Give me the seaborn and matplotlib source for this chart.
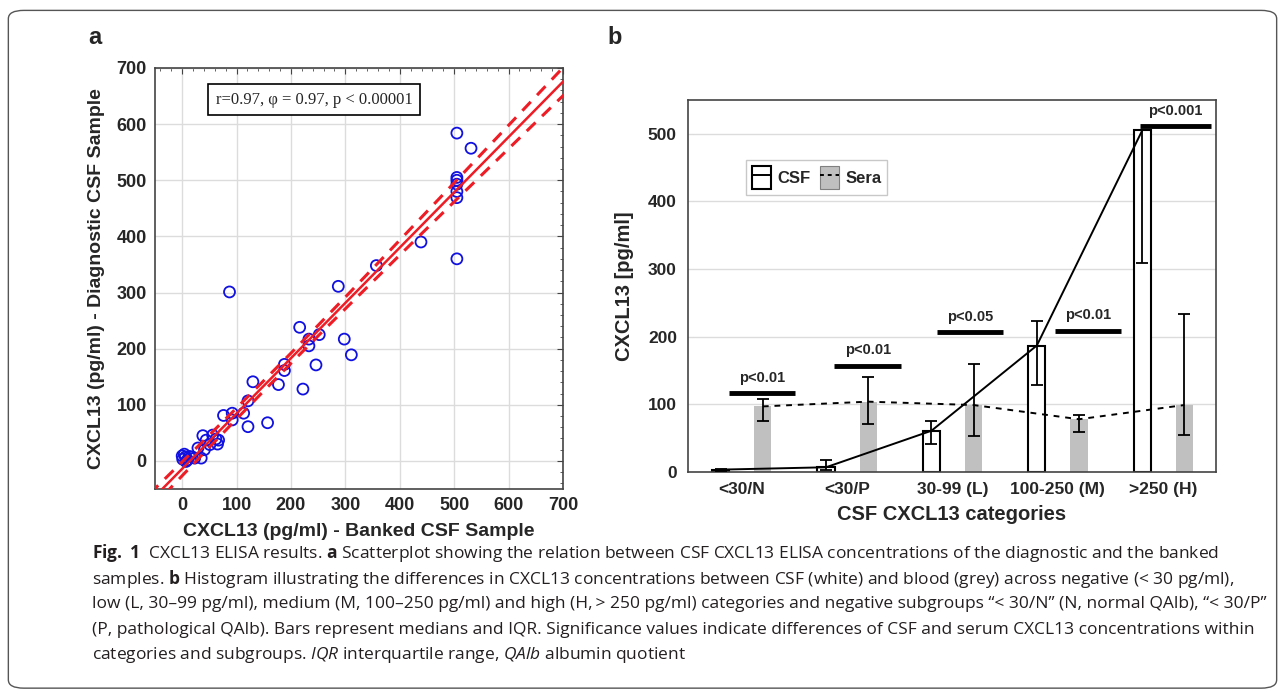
import numpy as np
import pandas as pd
import seaborn as sns
import matplotlib.pyplot as plt
from matplotlib.patches import Patch, FancyBboxPatch
from matplotlib.lines import Line2D

# panel a: banked vs diagnostic CSF CXCL13 (pg/ml)
banked_csf = [505, 531, 505, 505, 505, 505, 505, 505, 439, 357, 287, 87, 216, 298, 311,
              233, 233, 252, 246, 188, 188, 177, 222, 130, 121, 113, 121, 157, 76, 92, 92,
              38, 56, 62, 67, 44, 51, 65, 29, 41, 35, 23, 4, 6, 1, 10, 13, 18, 0, 7]
diagnostic_csf = [584, 557, 505, 500, 493, 480, 469, 360, 390, 348, 311, 301, 238, 217, 189,
                  217, 205, 225, 171, 172, 161, 136, 128, 141, 107, 85, 61, 68, 81, 85, 73,
                  45, 46, 39, 37, 37, 29, 30, 23, 20, 5, 5, 12, 7, 3, 2, 8, 7, 9, -1]
stats_text = "r=0.97, \u03c6 = 0.97, p < 0.00001"
# regression line and 95% band
fit_slope = 0.985
fit_intercept = -14.0
ci_half_narrowest = 9.0
ci_half_at_700 = 25.0

# panel b: medians and IQR per category
categories = ["<30/N", "<30/P", "30-99 (L)", "100-250 (M)", ">250 (H)"]
csf_median = [3.5, 7, 61, 187, 505]
csf_q1 = [2, 3.5, 42, 129, 309]
csf_q3 = [5, 18, 75, 223, 505]
sera_median = [97, 104, 99, 78, 99]
sera_q1 = [75, 71, 53, 59, 54]
sera_q3 = [108, 141, 160, 85, 234]
sig_labels = ["p<0.01", "p<0.01", "p<0.05", "p<0.01", "p<0.001"]
sig_level = [117, 157, 207, 209, 511]

caption = [
    r"$\mathbf{Fig.\ 1}$  CXCL13 ELISA results. $\mathbf{a}$ Scatterplot showing the relation between CSF CXCL13 ELISA concentrations of the diagnostic and the banked",
    r"samples. $\mathbf{b}$ Histogram illustrating the differences in CXCL13 concentrations between CSF (white) and blood (grey) across negative (< 30 pg/ml),",
    "low (L, 30\u201399 pg/ml), medium (M, 100\u2013250 pg/ml) and high (H,\u2009> 250 pg/ml) categories and negative subgroups \u201c< 30/N\u201d (N, normal QAlb), \u201c< 30/P\u201d",
    "(P, pathological QAlb). Bars represent medians and IQR. Significance values indicate differences of CSF and serum CXCL13 concentrations within",
    r"categories and subgroups. $\mathit{IQR}$ interquartile range, $\mathit{QAlb}$ albumin quotient",
]

sns.set_style("white")
plt.rcParams["font.family"] = ["Liberation Sans", "DejaVu Sans"]
plt.rcParams["mathtext.fontset"] = "custom"
plt.rcParams["mathtext.rm"] = "Open Sans"
plt.rcParams["mathtext.bf"] = "Open Sans:bold"
plt.rcParams["mathtext.it"] = "Open Sans:italic"

fig = plt.figure(figsize=(12.85, 6.93), dpi=100)

# rounded frame round the whole figure
fig.patches.append(FancyBboxPatch((0.0065, 0.007), 0.987, 0.978, boxstyle="round,pad=0,rounding_size=0.012",
                                  transform=fig.transFigure, fc="none", ec="#555555", lw=1.0))

# ---------------- panel a ----------------
ax1 = fig.add_axes([0.1206, 0.2944, 0.3175, 0.6075])
x = np.array(banked_csf, dtype=float)
y = np.array(diagnostic_csf, dtype=float)
sns.scatterplot(x=x, y=y, ax=ax1, marker="o", s=62, facecolor="none", edgecolor="#1010e0",
                linewidth=1.3, zorder=3)

xx = np.linspace(-60, 710, 200)
yy = fit_intercept + fit_slope * xx
xc = x.mean()
grow = (ci_half_at_700 ** 2 - ci_half_narrowest ** 2) / (700 - xc) ** 2
band = np.sqrt(ci_half_narrowest ** 2 + grow * (xx - xc) ** 2)
ax1.plot(xx, yy, color="#ee1c25", lw=1.8, zorder=4)
ax1.plot(xx, yy + band, color="#ee1c25", lw=2.2, ls=(0, (4, 3)), zorder=4)
ax1.plot(xx, yy - band, color="#ee1c25", lw=2.2, ls=(0, (4, 3)), zorder=4)

ax1.set_xlim(-50, 700)
ax1.set_ylim(-50, 700)
ax1.set_xticks(range(0, 701, 100))
ax1.set_yticks(range(0, 701, 100))
ax1.set_xticks(range(-40, 701, 20), minor=True)
ax1.set_yticks(range(-40, 701, 20), minor=True)
ax1.grid(True, color="#dcdcdc", lw=1.0)
ax1.set_axisbelow(True)
ax1.tick_params(which="both", direction="in", top=True, right=True, labelsize=13, pad=6, color="#444444")
ax1.tick_params(which="major", length=4)
ax1.tick_params(which="minor", length=2)
for lab in ax1.get_xticklabels() + ax1.get_yticklabels():
    lab.set_fontweight("bold")
for sp in ax1.spines.values():
    sp.set_color("#444444")
    sp.set_linewidth(1.2)
ax1.set_xlabel("CXCL13 (pg/ml) - Banked CSF Sample", fontsize=14, fontweight="bold", labelpad=6)
ax1.set_ylabel("CXCL13 (pg/ml) - Diagnostic CSF Sample", fontsize=14, fontweight="bold", labelpad=8)
ax1.text(0.39, 0.925, stats_text, transform=ax1.transAxes, ha="center", va="center",
         family=["Liberation Serif", "DejaVu Serif"], fontsize=12,
         bbox=dict(boxstyle="square,pad=0.45", fc="white", ec="black", lw=1.2), zorder=5)

# ---------------- panel b ----------------
ax2 = fig.add_axes([0.5354, 0.3189, 0.4109, 0.5368])
df = pd.DataFrame({
    "category": categories * 2,
    "value": csf_median + sera_median,
    "fluid": ["CSF"] * len(categories) + ["Sera"] * len(categories),
})
sns.barplot(data=df, x="category", y="value", hue="fluid", order=categories,
            palette={"CSF": "white", "Sera": "#c0c0c0"}, width=0.8, gap=0.59,
            errorbar=None, legend=False, ax=ax2, zorder=2)
for bar in ax2.patches[:len(categories)]:
    bar.set_edgecolor("black")
    bar.set_linewidth(1.5)
for bar in ax2.patches[len(categories):]:
    bar.set_edgecolor("none")

pos = np.arange(len(categories))
csf_x = pos - 0.2
sera_x = pos + 0.2
cm, sm = np.array(csf_median), np.array(sera_median)
ax2.errorbar(csf_x, cm, yerr=[cm - np.array(csf_q1), np.array(csf_q3) - cm], fmt="none",
             ecolor="black", elinewidth=1.3, capsize=4.5, capthick=1.3, zorder=5)
ax2.errorbar(sera_x, sm, yerr=[sm - np.array(sera_q1), np.array(sera_q3) - sm], fmt="none",
             ecolor="black", elinewidth=1.3, capsize=4.5, capthick=1.3, zorder=5)
ax2.plot(csf_x, cm, color="black", lw=1.4, zorder=4)
ax2.plot(sera_x, sm, color="black", lw=1.4, ls=(0, (3, 3)), zorder=4)

# significance bars
sig_left = [-0.12, -0.12, -0.15, -0.03, -0.22]
sig_right = [0.51, 0.51, 0.48, 0.60, 0.45]
for i, (lab, lev) in enumerate(zip(sig_labels, sig_level)):
    ax2.plot([i + sig_left[i], i + sig_right[i]], [lev, lev], color="black", lw=3.5,
             solid_capstyle="butt", zorder=5)
    ax2.annotate(lab, xy=(i + (sig_left[i] + sig_right[i]) / 2, lev), xytext=(0, 6),
                 textcoords="offset points", ha="center", va="bottom", fontsize=10.5,
                 fontweight="bold")

ax2.set_xlim(-0.51, 4.5)
ax2.set_ylim(0, 550)
ax2.set_yticks(range(0, 501, 100))
ax2.yaxis.grid(True, color="#dcdcdc", lw=1.0)
ax2.set_axisbelow(True)
ax2.tick_params(axis="both", direction="in", length=3, labelsize=12.5, color="#444444")
ax2.tick_params(axis="y", pad=8)
ax2.tick_params(axis="x", pad=7)
for lab in ax2.get_xticklabels() + ax2.get_yticklabels():
    lab.set_fontweight("bold")
for sp in ax2.spines.values():
    sp.set_color("#444444")
    sp.set_linewidth(1.2)
ax2.set_xlabel("CSF CXCL13 categories", fontsize=14.5, fontweight="bold", labelpad=6)
ax2.set_ylabel("CXCL13 [pg/ml]", fontsize=14.5, fontweight="bold", labelpad=10)

handles = [
    (Patch(fc="white", ec="black", lw=1.5), Line2D([], [], color="black", lw=1.4)),
    (Patch(fc="#c0c0c0", ec="#808080", lw=0.8), Line2D([], [], color="black", lw=1.4, ls=(0, (2, 2)))),
]
leg = ax2.legend(handles, ["CSF", "Sera"], loc="upper left", bbox_to_anchor=(0.095, 0.86),
                 ncol=2, frameon=True, fancybox=False, handlelength=1.1, handleheight=1.7,
                 handletextpad=0.4, columnspacing=0.6, borderpad=0.35,
                 prop=dict(weight="bold", size=12))
leg.get_frame().set_edgecolor("#bbbbbb")
leg.get_frame().set_linewidth(1.0)

# panel letters
fig.text(95 / 1285, 1 - 37 / 693, "a", fontsize=17, fontweight="bold", ha="center", va="center")
fig.text(615 / 1285, 1 - 37 / 693, "b", fontsize=17, fontweight="bold", ha="center", va="center")

# caption, sized so the first line spans the same width as in the figure
cap_texts = []
for k, line in enumerate(caption):
    t = fig.text(92 / 1285, 1 - (553 + 25.5 * k) / 693, line, fontsize=12, ha="left", va="center",
                 family=["Open Sans", "DejaVu Sans"], color="#231f20")
    cap_texts.append(t)
fig.canvas.draw()
w = cap_texts[0].get_window_extent().width
for t in cap_texts:
    t.set_fontsize(12 * 1126 / w)

fig.savefig("out.png", dpi=100)
